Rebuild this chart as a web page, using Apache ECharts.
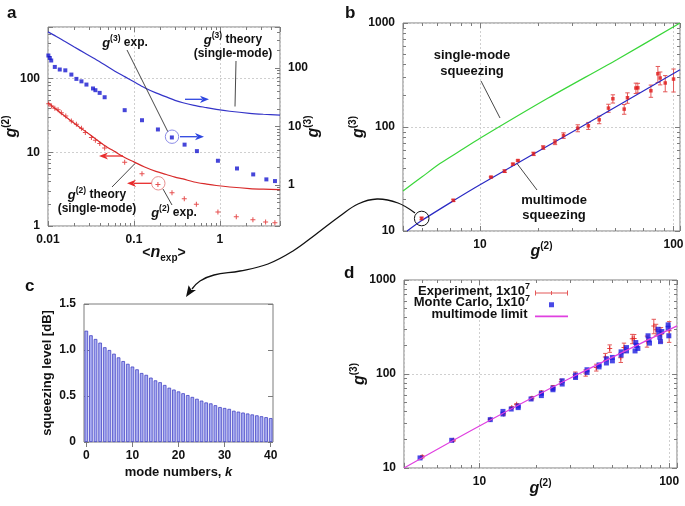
<!DOCTYPE html>
<html>
<head>
<meta charset="utf-8">
<script src="https://cdn.jsdelivr.net/npm/echarts@6.0.0/dist/echarts.min.js"></script>
<style>html,body{margin:0;padding:0;background:#fff;}#chart{width:685px;height:506px;}</style>
</head>
<body>
<div id="chart"></div>
<script>
// ---------------- panel a ----------------
const aExpG3N = [0.0101,0.0105,0.0109,0.0120,0.0137,0.0159,0.0187,0.0214,0.0245,0.028,0.0334,0.0356,0.0399,0.0456,0.078,0.124,0.19,0.276,0.388,0.54,0.948,1.58,2.44,3.47,4.37];
const aExpG3  = [163,148,134,104,94,91,77,65,59,52,44.6,41.7,37.5,31.6,19,12.8,8.9,6.5,4.9,3.8,2.6,1.92,1.52,1.25,1.17];
const aExpG2N = [0.0102,0.011,0.012,0.0131,0.0143,0.0161,0.0187,0.0214,0.0245,0.0272,0.032,0.0356,0.040,0.0456,0.078,0.124,0.19,0.277,0.385,0.532,0.948,1.55,2.42,3.4,4.36];
const aExpG2  = [45.5,42.4,39.4,37.8,34.4,31,26.6,24,21.2,18.5,15.8,14.6,13.1,11.4,7.3,5.1,3.65,2.82,2.34,1.98,1.55,1.34,1.22,1.13,1.11];
const aTheoryN  = [0.01,0.0125,0.0156,0.02,0.0267,0.035,0.0456,0.06,0.078,0.1,0.133,0.18,0.238,0.3,0.372,0.5,0.7,0.908,1.3,2.21,3.2,5];
const aTheoryG3 = [413,345,285,230,180,143,113,88,71,58,46,37.5,32,28,25.4,23,21,19.6,18.2,16.8,16.2,15.7];
const aTheoryG2 = [46.9,38,31,25,19.5,15.5,12.4,10.2,8.5,7.4,6.3,5.5,5.0,4.6,4.35,3.95,3.7,3.54,3.38,3.22,3.16,3.12];
const aXTicks = ['0.01','0.1','1'];
const aY2Ticks = ['1','10','100'];
const aY3Ticks = ['1','10','100'];

// ---------------- panel b / d (experiment) ----------------
const expG2  = [4.99,7.28,11.4,13.4,14.8,15.7,18.9,21.2,24.4,27.0,32.0,36.3,41.3,46.1,48.6,55.6,57.8,63.9,65.4,76.4,83.0,85.3,90.6,100];
const expG3  = [13.2,19.7,33.0,37.6,43.9,47.6,55.2,63.5,71.6,82.8,97.5,102.7,117.3,152,187,148.6,191,237,238,223,325,296,265,289];
const expErr = [0.4,0.5,0.5,1.1,1.0,0.7,2.1,2.5,3.9,5.1,7.5,7.9,9.8,13.5,17,16,22,27,25,30,57,42,47,72];
const bSingleG2 = [4.0,5,6.21,8,10,22.5,50.9,108];
const bSingleG3 = [24.3,33,44.5,60,78,190,444,1000];
const bMultiG2 = [4.2,5,7.28,10,32.9,108];
const bMultiG3 = [10,12.6,19.5,27.8,99,355];
const bXTicks = ['10','100'];
const bYTicks = ['10','100','1000'];

// ---------------- panel c ----------------
const cModes = ['0','1','2','3','4','5','6','7','8','9','10','11','12','13','14','15','16','17','18','19','20','21','22','23','24','25','26','27','28','29','30','31','32','33','34','35','36','37','38','39','40'];
const cLevels = [1.21,1.16,1.12,1.08,1.03,1.00,0.96,0.92,0.88,0.85,0.82,0.79,0.75,0.73,0.70,0.67,0.65,0.62,0.59,0.57,0.55,0.53,0.51,0.49,0.47,0.45,0.43,0.42,0.40,0.38,0.37,0.36,0.34,0.33,0.32,0.31,0.30,0.29,0.28,0.27,0.26];
const cYTicks = ['0','0.5','1.0','1.5'];

// ---------------- panel d ----------------
const dMcG2 = [4.86,7.14,11.4,13.3,13.3,14.7,16.0,16.0,18.7,21.2,21.2,24.4,24.4,27.3,27.3,32.1,32.1,36.9,36.9,42.7,42.7,46.7,46.7,50.2,50.2,55.8,55.8,59.6,59.6,66.7,67.3,68.4,66.1,77.4,78.2,78.8,87.5,88.3,89.3,90.0,91.5,98.8,98.8,99.6];
const dMcG3 = [12.8,19.7,32.7,40,37.5,42.4,45.7,43.9,54.2,62.4,58.9,70.8,68,84.7,78.2,97.3,91.8,111,104,125,119,145,131,150,138,172,159,191,176,216,201,187,176,255,231,213,299,272,246,221,283,333,307,255];
const dLimitG2 = [4,10,30,110];
const dLimitG3 = [10,28,90,325];
const dXTicks = ['10','100'];
const dYTicks = ['10','100','1000'];

// ---------------- styling ----------------
const FONT = "'Liberation Sans', Arial, sans-serif";
const AX = '#7c7c7c';
const TXT = '#111';
const richAxis = {
  i: {fontStyle:'italic', fontWeight:'bold', fontSize:16, fontFamily:FONT, color:TXT},
  s: {fontWeight:'bold', fontSize:10, fontFamily:FONT, color:TXT, padding:[0,0,11,0]},
  sub: {fontWeight:'bold', fontSize:10, fontFamily:FONT, color:TXT, padding:[10,0,0,0]},
  b: {fontWeight:'bold', fontSize:14, fontFamily:FONT, color:TXT},
  k: {fontStyle:'italic', fontWeight:'bold', fontSize:13, fontFamily:FONT, color:TXT}
};
const richAnn = {
  i: {fontStyle:'italic', fontWeight:'bold', fontSize:13, fontFamily:FONT, fill:TXT, color:TXT},
  s: {fontWeight:'bold', fontSize:8.5, fontFamily:FONT, fill:TXT, color:TXT, padding:[0,0,9,0]}
};

function pickLabel(v, labels) {
  const lv = Math.log10(v);
  for (const l of labels) if (Math.abs(lv - Math.log10(Number(l))) < 1e-6) return l;
  return '';
}
function logAxis(gridIndex, min, max, labels, extra) {
  return Object.assign({
    type:'log', logBase:10, gridIndex, min, max,
    axisLine:{show:false},
    axisTick:{show:true, inside:true, length:5, lineStyle:{color:AX}},
    minorTick:{show:true, splitNumber:9, length:3, lineStyle:{color:AX}},
    splitLine:{show:!!labels, lineStyle:{color:'#cfcfcf', type:[2,2], width:1}},
    axisLabel: labels ? {show:true, formatter:v => pickLabel(v, labels), color:TXT, fontSize:12, fontWeight:'bold', fontFamily:FONT, margin:8} : {show:false},
    nameMoveOverlap:false,
    nameTextStyle:{rich:richAxis, fontWeight:'bold', fontSize:14, fontFamily:FONT, color:TXT}
  }, extra || {});
}

const xAxes = [
  logAxis(0, 0.01, 5, aXTicks, {position:'bottom', name:'{b|<}{i|n}{sub|exp}{b|>}', nameLocation:'middle', nameGap:17}),
  logAxis(0, 0.01, 5, null, {position:'top'}),
  logAxis(1, 4, 108, bXTicks, {position:'bottom', name:'{i|g}{s|(2)}', nameLocation:'middle', nameGap:10}),
  logAxis(1, 4, 108, null, {position:'top'}),
  {type:'category', gridIndex:2, data:cModes, position:'bottom', boundaryGap:true,
   axisLine:{show:false}, axisTick:{show:true, inside:true, length:5, interval:9, alignWithLabel:true, lineStyle:{color:AX}},
   axisLabel:{interval:9, color:TXT, fontSize:12, fontWeight:'bold', fontFamily:FONT, margin:8},
   name:'mode numbers, {k|k}', nameLocation:'middle', nameGap:24, nameMoveOverlap:false,
   nameTextStyle:{rich:richAxis, fontWeight:'bold', fontSize:13, fontFamily:FONT, color:TXT}},
  {type:'category', gridIndex:2, data:cModes, position:'top', boundaryGap:true,
   axisLine:{show:false}, axisTick:{show:true, inside:true, length:5, interval:9, alignWithLabel:true, lineStyle:{color:AX}},
   axisLabel:{show:false}},
  logAxis(3, 4, 110, dXTicks, {position:'bottom', name:'{i|g}{s|(2)}', nameLocation:'middle', nameGap:10}),
  logAxis(3, 4, 110, null, {position:'top'})
];
const yAxes = [
  logAxis(0, 1, 500, aY2Ticks, {position:'left', name:'{i|g}{s|(2)}', nameLocation:'middle', nameGap:26, nameRotate:90}),
  logAxis(0, 0.2, 500, aY3Ticks, {position:'right', name:'{i|g}{s|(3)}', nameLocation:'middle', nameGap:23, nameRotate:90, splitLine:{show:false}}),
  logAxis(1, 10, 1000, bYTicks, {position:'left', name:'{i|g}{s|(3)}', nameLocation:'middle', nameGap:34, nameRotate:90}),
  logAxis(1, 10, 1000, null, {position:'right'}),
  {type:'value', gridIndex:2, min:0, max:1.5, interval:0.5, position:'left',
   axisLine:{show:false}, axisTick:{show:true, inside:true, length:5, lineStyle:{color:AX}}, splitLine:{show:false},
   axisLabel:{formatter:v => cYTicks[Math.round(v/0.5)], color:TXT, fontSize:12, fontWeight:'bold', fontFamily:FONT, margin:8},
   name:'squeezing level [dB]', nameLocation:'middle', nameGap:30, nameRotate:90, nameMoveOverlap:false,
   nameTextStyle:{fontWeight:'bold', fontSize:13, fontFamily:FONT, color:TXT}},
  {type:'value', gridIndex:2, min:0, max:1.5, interval:0.5, position:'right',
   axisLine:{show:false}, axisTick:{show:true, inside:true, length:5, lineStyle:{color:AX}}, splitLine:{show:false}, axisLabel:{show:false}},
  logAxis(3, 10, 1000, dYTicks, {position:'left', name:'{i|g}{s|(3)}', nameLocation:'middle', nameGap:34, nameRotate:90}),
  logAxis(3, 10, 1000, null, {position:'right'})
];

const PLUS = 'path://M2,0H3V2H5V3H3V5H2V3H0V2H2Z';
function errRender(color) {
  return function(params, api) {
    const x = api.value(0), y = api.value(1), e = api.value(2);
    const top = api.coord([x, y + e]);
    const bot = api.coord([x, Math.max(y - e, 0.001)]);
    const hw = 2.2;
    const st = {stroke:color, lineWidth:1};
    return {type:'group', children:[
      {type:'line', shape:{x1:top[0], y1:top[1], x2:bot[0], y2:bot[1]}, style:st},
      {type:'line', shape:{x1:top[0]-hw, y1:top[1], x2:top[0]+hw, y2:top[1]}, style:st},
      {type:'line', shape:{x1:bot[0]-hw, y1:bot[1], x2:bot[0]+hw, y2:bot[1]}, style:st}
    ]};
  };
}
const zip = (a, b) => a.map((v, i) => [v, b[i]]);
const expData = expG2.map((v, i) => [v, expG3[i], expErr[i]]);

const series = [
  // a
  {type:'line', name:'g3 theory', xAxisIndex:0, yAxisIndex:1, data:zip(aTheoryN, aTheoryG3), smooth:0.3, showSymbol:false, symbol:'none', lineStyle:{color:'#3434c8', width:1.2}},
  {type:'line', name:'g2 theory', xAxisIndex:0, yAxisIndex:0, data:zip(aTheoryN, aTheoryG2), smooth:0.3, showSymbol:false, symbol:'none', lineStyle:{color:'#d82a2a', width:1.2}},
  {type:'scatter', name:'g3 exp', xAxisIndex:0, yAxisIndex:1, data:zip(aExpG3N, aExpG3), symbol:'rect', symbolSize:4, itemStyle:{color:'#1818d0'}},
  {type:'scatter', name:'g2 exp', xAxisIndex:0, yAxisIndex:0, data:zip(aExpG2N, aExpG2), symbol:PLUS, symbolSize:5, itemStyle:{color:'#e02424'}},
  // b
  {type:'line', name:'single', xAxisIndex:2, yAxisIndex:2, data:zip(bSingleG2, bSingleG3), smooth:0.3, symbol:'none', lineStyle:{color:'#3ad63a', width:1.2}},
  {type:'line', name:'multi', xAxisIndex:2, yAxisIndex:2, data:zip(bMultiG2, bMultiG3), smooth:0.3, symbol:'none', lineStyle:{color:'#2a2ac4', width:1.2}},
  {type:'custom', name:'b err', xAxisIndex:2, yAxisIndex:2, data:expData, encode:{x:0, y:1}, renderItem:errRender('#e45858'), z:3},
  {type:'scatter', name:'b exp', xAxisIndex:2, yAxisIndex:2, data:zip(expG2, expG3), symbol:'rect', symbolSize:3.5, itemStyle:{color:'#e01c1c'}, z:4},
  // c
  {type:'bar', name:'squeezing', xAxisIndex:4, yAxisIndex:4, data:cLevels, barCategoryGap:'22%', itemStyle:{color:'#a9adf2', borderColor:'#4444c4', borderWidth:0.8}},
  // d
  {type:'custom', name:'Experiment', xAxisIndex:6, yAxisIndex:6, data:expData, encode:{x:0, y:1}, renderItem:errRender('#e45858'), itemStyle:{color:'#e45858'}, z:2},
  {type:'scatter', name:'Experiment', xAxisIndex:6, yAxisIndex:6, data:zip(expG2, expG3), symbol:PLUS, symbolSize:5, itemStyle:{color:'#e01c1c'}, z:2},
  {type:'scatter', name:'Monte Carlo', xAxisIndex:6, yAxisIndex:6, data:zip(dMcG2, dMcG3), symbol:'rect', symbolSize:5, itemStyle:{color:'#1c1ce0'}, z:3},
  {type:'line', name:'multimode limit', xAxisIndex:6, yAxisIndex:6, data:zip(dLimitG2, dLimitG3), smooth:0.3, symbol:'none', lineStyle:{color:'#e040e0', width:1.2}, z:4}
];

const legendNames = {
  'Experiment':'{t|Experiment, 1x10}{s|7}',
  'Monte Carlo':'{t|Monte Carlo, 1x10}{s|7}',
  'multimode limit':'{t|multimode limit}{s| }'
};
const legTS = {fontWeight:'bold', fontSize:13, fontFamily:FONT, color:TXT,
  rich:{t:{fontWeight:'bold', fontSize:13, fontFamily:FONT, color:TXT}, s:{fontWeight:'bold', fontSize:9, fontFamily:FONT, color:TXT, padding:[0,0,9,0]}}};
function leg(name, icon, color, top) {
  return {right:112, top, align:'right', orient:'horizontal', itemWidth:33, itemHeight:10, selectedMode:false,
    formatter:n => legendNames[n], textStyle:legTS,
    data:[{name, icon, itemStyle:{color}}]};
}
const legends = [
  leg('Experiment', 'path://M0,0L0.01,0Z M0,6.5H33V7.5H0Z M0,4.5H1V9.5H0Z M32,4.5H33V9.5H32Z M16,5H17V9H16Z M33,10L32.99,10Z', '#e45858', 277),
  leg('Monte Carlo', 'path://M0,0L0.01,0Z M14,4.5H19V9.5H14Z M33,10L32.99,10Z', '#1c1ce0', 288.7),
  leg('multimode limit', 'path://M0,0L0.01,0Z M0,6.2H33V7.8H0Z M33,10L32.99,10Z', '#e040e0', 300.4)
];

// ---------------- annotations ----------------
function txt(x, y, text, size) {
  return {type:'text', x, y, z:100, style:{text, fontFamily:FONT, fontWeight:'bold', fontSize:size || 12, fill:TXT,
    align:'center', verticalAlign:'middle', textAlign:'center', textVerticalAlign:'middle', rich:richAnn}};
}
function seg(x1, y1, x2, y2, color, w) {
  return {type:'line', z:100, shape:{x1, y1, x2, y2}, style:{stroke:color || '#333', lineWidth:w || 0.9}};
}
function ring(cx, cy, r, color) {
  return {type:'circle', z:100, shape:{cx, cy, r}, style:{fill:'none', stroke:color, lineWidth:1}};
}
function arrow(x1, y1, x2, y2, color) {
  const dx = x2 - x1, dy = y2 - y1, L = Math.hypot(dx, dy), ux = dx / L, uy = dy / L;
  const hl = 9, hw = 3.6;
  const bx = x2 - ux * hl, by = y2 - uy * hl;
  return [
    {type:'line', z:100, shape:{x1, y1, x2:bx + ux * 2, y2:by + uy * 2}, style:{stroke:color, lineWidth:1.3}},
    {type:'polygon', z:100, shape:{points:[[x2, y2], [bx - uy * hw, by + ux * hw], [bx + ux * 2.5, by + uy * 2.5], [bx + uy * hw, by - ux * hw]]}, style:{fill:color}}
  ];
}
function letter(x, y, t) {
  return {type:'text', x, y, z:100, style:{text:t, fontFamily:FONT, fontWeight:'bold', fontSize:17, fill:TXT, align:'left', verticalAlign:'bottom', textAlign:'left', textVerticalAlign:'bottom'}};
}
const BLUEA = '#2e46e0', REDA = '#e82c2c';
const graphics = [
  letter(7, 22, 'a'), letter(345, 22, 'b'), letter(25, 295, 'c'), letter(344, 282, 'd'),
  // panel a
  txt(125, 43, '{i|g}{s|(3)} exp.'),
  seg(127, 50, 168, 132),
  ring(172, 136.7, 6.7, '#8c8ce8'),
  ...arrow(180, 136.7, 204, 136.7, BLUEA),
  ...arrow(185, 99.3, 209, 99.3, BLUEA),
  txt(233, 40, '{i|g}{s|(3)} theory'),
  txt(233, 54, '(single-mode)'),
  seg(236, 61, 235, 106.5),
  ...arrow(123, 156, 99, 156, REDA),
  ...arrow(152, 183.3, 127, 183.3, REDA),
  ring(158.3, 183.3, 6.7, '#e89090'),
  txt(97, 195, '{i|g}{s|(2)} theory'),
  txt(97, 209, '(single-mode)'),
  seg(112, 187, 135, 163.5),
  txt(174, 213, '{i|g}{s|(2)} exp.'),
  seg(163, 189, 172, 205),
  // panel b
  txt(472, 55, 'single-mode', 13),
  txt(472, 71, 'squeezing', 13),
  seg(481, 81, 500, 118),
  txt(554, 200, 'multimode', 13),
  txt(554, 215, 'squeezing', 13),
  seg(537, 190, 517, 163.5),
  ring(421.7, 218.5, 7.3, '#111'),
  {type:'polyline', z:100, shape:{smooth:0.4, points:[[415,213],[398,203],[377,199],[358,204],[340,216],[315,235],[293,251],[268,264],[240,271],[214,275],[200,281],[192,289]]}, style:{stroke:'#111', lineWidth:1.3, fill:'none'}},
  {type:'polygon', z:100, shape:{points:[[186,297],[196,290],[191.5,290],[188.6,285.3]]}, style:{fill:'#111'}}
];

const option = {
  animation:false,
  backgroundColor:'#ffffff',
  grid:[
    {left:48, top:27, width:232, height:199, show:true, borderColor:AX, borderWidth:1, backgroundColor:'transparent', outerBoundsMode:'none'},
    {left:403, top:23, width:277, height:208, show:true, borderColor:AX, borderWidth:1, backgroundColor:'transparent', outerBoundsMode:'none'},
    {left:84, top:304, width:189, height:138, show:true, borderColor:AX, borderWidth:1, backgroundColor:'transparent', outerBoundsMode:'none'},
    {left:404, top:280, width:273, height:188, show:true, borderColor:AX, borderWidth:1, backgroundColor:'transparent', outerBoundsMode:'none'}
  ],
  xAxis:xAxes,
  yAxis:yAxes,
  legend:legends,
  series,
  graphic:{elements:graphics}
};
const chart = echarts.init(document.getElementById('chart'));
chart.setOption(option);
</script>
</body>
</html>
